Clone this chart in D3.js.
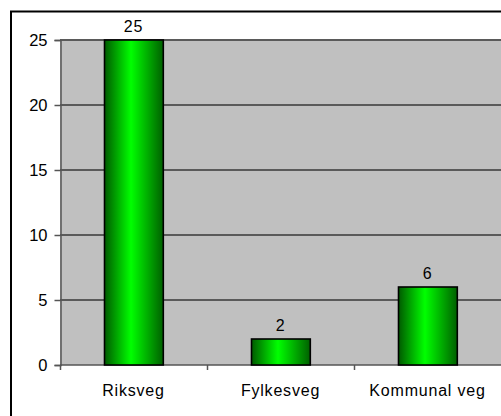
<!DOCTYPE html>
<html>
<head>
<meta charset="utf-8">
<script src="https://cdn.jsdelivr.net/npm/d3@7"></script>
<style>
  body { margin: 0; background: #fff; }
  text { font-family: "Liberation Sans", Arial, sans-serif; font-size: 16px; fill: #000; }
  .lbl { letter-spacing: 0.8px; }
</style>
</head>
<body>
<div id="chart"></div>
<script>
const categories = ["Riksveg", "Fylkesveg", "Kommunal veg"];
const values = [25, 2, 6];
const yTicks = [0, 5, 10, 15, 20, 25];

const width = 501, height = 416;
const margin = {top: 40, right: 0, bottom: 51, left: 60};

const svg = d3.select("#chart").append("svg")
    .attr("width", width)
    .attr("height", height);

// chart frame
svg.append("path")
    .attr("d", "M11," + height + "V11.5H" + width)
    .attr("fill", "none")
    .attr("stroke", "#000")
    .attr("stroke-width", 2);

const x = d3.scaleBand()
    .domain(categories)
    .range([margin.left, width - margin.right])
    .paddingInner(0.6)
    .paddingOuter(0.3);

const y = d3.scaleLinear()
    .domain([0, 25])
    .range([height - margin.bottom, margin.top]);

const grad = svg.append("defs").append("linearGradient")
    .attr("id", "barGrad")
    .attr("x1", "0%").attr("x2", "100%");
grad.append("stop").attr("offset", "0%").attr("stop-color", "#005a00");
grad.append("stop").attr("offset", "45%").attr("stop-color", "#00ff00");
grad.append("stop").attr("offset", "100%").attr("stop-color", "#006000");

// plot background
svg.append("rect")
    .attr("x", margin.left)
    .attr("y", y(25))
    .attr("width", width - margin.right - margin.left)
    .attr("height", y(0) - y(25))
    .attr("fill", "#c0c0c0");

// gridlines
svg.append("g")
    .selectAll("line")
    .data(yTicks.filter(d => d > 0))
    .enter()
    .append("line")
    .attr("x1", margin.left)
    .attr("x2", width)
    .attr("y1", d => Math.round(y(d)))
    .attr("y2", d => Math.round(y(d)))
    .attr("stroke", "#5a5a5a")
    .attr("stroke-width", 2);

// y axis
const yAxis = svg.append("g")
    .attr("transform", "translate(" + (margin.left + 0.5) + ",0)")
    .call(d3.axisLeft(y).tickValues(yTicks).tickSize(6).tickPadding(7));
yAxis.select(".domain").attr("stroke", "#555").attr("stroke-width", 1.5);
yAxis.selectAll(".tick line").attr("stroke", "#555").attr("stroke-width", 1.5);
yAxis.selectAll("text").style("font-size", "16.5px").attr("fill", "#000");

// x axis
const step = x.step();
const bounds = d3.range(categories.length + 1).map(i => margin.left + i * step);
svg.append("line")
    .attr("x1", margin.left).attr("x2", width)
    .attr("y1", y(0)).attr("y2", y(0))
    .attr("stroke", "#555")
    .attr("stroke-width", 1.5);
svg.append("g")
    .selectAll("line")
    .data(bounds.slice(0, 3))
    .enter()
    .append("line")
    .attr("x1", d => Math.round(d) + 0.5)
    .attr("x2", d => Math.round(d) + 0.5)
    .attr("y1", y(0))
    .attr("y2", y(0) + 5)
    .attr("stroke", "#555")
    .attr("stroke-width", 1.5);

svg.append("g")
    .selectAll("text")
    .data(categories)
    .enter()
    .append("text")
    .attr("class", "lbl")
    .attr("x", d => x(d) + x.bandwidth() / 2)
    .attr("y", height - 20)
    .attr("text-anchor", "middle")
    .text(d => d);

// bars
const data = categories.map((c, i) => ({cat: c, value: values[i]}));
svg.append("g")
    .selectAll("rect")
    .data(data)
    .enter()
    .append("rect")
    .attr("x", d => Math.round(x(d.cat)) + 0.5)
    .attr("y", d => Math.round(y(d.value)))
    .attr("width", x.bandwidth())
    .attr("height", d => y(0) - Math.round(y(d.value)))
    .attr("fill", "url(#barGrad)")
    .attr("stroke", "#000")
    .attr("stroke-width", 1.6);

svg.append("g")
    .selectAll("text")
    .data(data)
    .enter()
    .append("text")
    .attr("class", "lbl")
    .attr("x", d => x(d.cat) + x.bandwidth() / 2)
    .attr("y", d => y(d.value) - 8)
    .attr("text-anchor", "middle")
    .text(d => d.value);
</script>
</body>
</html>
